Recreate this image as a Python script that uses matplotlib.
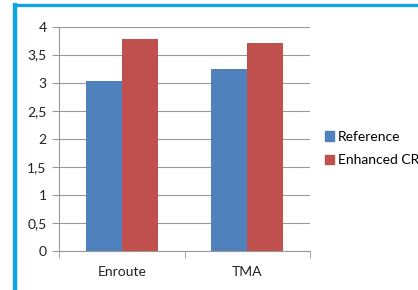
import numpy as np
import matplotlib
matplotlib.use("Agg")
import matplotlib.pyplot as plt
from matplotlib.lines import Line2D

categories = ["Enroute", "TMA"]
reference = [3.03, 3.24]
enhanced = [3.78, 3.70]
series_names = ["Reference", "Enhanced CR"]
yticks = [0, 0.5, 1, 1.5, 2, 2.5, 3, 3.5, 4]
ytick_labels = ["0", "0,5", "1", "1,5", "2", "2,5", "3", "3,5", "4"]

plt.rcParams['font.family'] = ['Lato', 'DejaVu Sans']

W, H = 418, 290
fig = plt.figure(figsize=(W / 100, H / 100), dpi=100)
ax = fig.add_axes([59 / W, 1 - 251 / H, (310 - 59) / W, (251 - 26.5) / H])

x = np.arange(len(categories))
bw = 0.285
ax.bar(x - bw / 2, reference, bw, color="#4F81BD", label=series_names[0], zorder=3)
ax.bar(x + bw / 2, enhanced, bw, color="#C0504D", label=series_names[1], zorder=3)

fs = 10
ax.set_xlim(-0.5, 1.5)
ax.set_ylim(0, 4)
ax.set_yticks(yticks)
ax.set_yticklabels(ytick_labels, fontsize=fs, color="#222222")
ax.set_xticks(x)
ax.set_xticklabels(categories, fontsize=fs, color="#222222")
ax.tick_params(axis="x", length=0, pad=11)
ax.tick_params(axis="y", length=5, color="#999999", pad=4)
ax.set_xticks([-0.5, 0.5, 1.5], minor=True)
ax.tick_params(axis="x", which="minor", length=5, color="#999999")
ax.grid(axis="y", color="#999999", linewidth=0.8, zorder=0)
for s in ["top", "right"]:
    ax.spines[s].set_visible(False)
ax.spines["left"].set_color("#999999")
ax.spines["bottom"].set_color("#999999")

handles = [plt.Rectangle((0, 0), 1, 1, color="#4F81BD"),
           plt.Rectangle((0, 0), 1, 1, color="#C0504D")]
fig.legend(handles, series_names, loc="upper left", bbox_to_anchor=(325 / W, 1 - 131 / H),
           frameon=False, fontsize=fs, handlelength=0.65, handleheight=0.65,
           handletextpad=0.3, labelspacing=0.8, borderpad=0, borderaxespad=0)

# blue frame along left and top
c = "#0EA5E0"
fig.add_artist(Line2D([15 / W, 15 / W], [0, 1 - 3 / H], color=c, linewidth=3.2,
                      transform=fig.transFigure, solid_capstyle="butt"))
fig.add_artist(Line2D([13 / W, 1], [1 - 4.5 / H, 1 - 4.5 / H], color=c, linewidth=2.4,
                      transform=fig.transFigure, solid_capstyle="butt"))

fig.savefig("out.png", dpi=100)
